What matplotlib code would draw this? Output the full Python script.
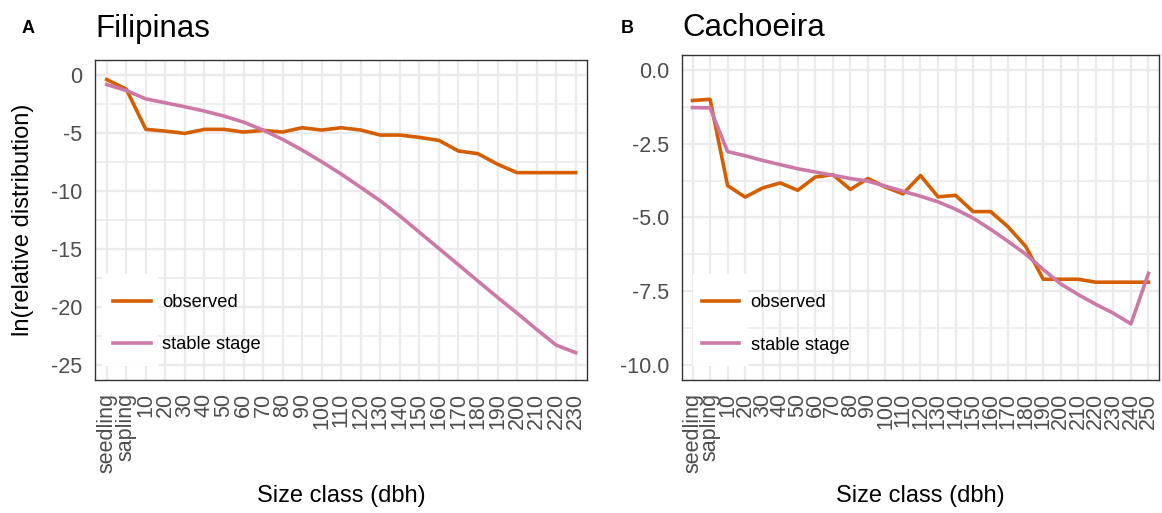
import matplotlib
matplotlib.use("Agg")
import matplotlib.pyplot as plt
from matplotlib.patches import Rectangle
from matplotlib.ticker import MultipleLocator, FormatStrFormatter

plt.rcParams["font.family"] = ["Liberation Sans", "DejaVu Sans"]
plt.rcParams["axes.unicode_minus"] = False

ORANGE = "#D55E00"
PINK = "#CC79A7"
GRID = "#EBEBEB"
TICK_GREY = "#4D4D4D"

# ---- data ----
fil_classes = ["seedling", "sapling", "10", "20", "30", "40", "50", "60", "70",
               "80", "90", "100", "110", "120", "130", "140", "150", "160",
               "170", "180", "190", "200", "210", "220", "230"]
fil_observed = [-0.43, -1.25, -4.71, -4.86, -5.06, -4.71, -4.71, -4.94, -4.80,
                -4.94, -4.57, -4.77, -4.57, -4.77, -5.20, -5.20, -5.40, -5.66,
                -6.57, -6.80, -7.71, -8.43, -8.43, -8.43, -8.43]
fil_stable = [-0.86, -1.37, -2.09, -2.43, -2.77, -3.14, -3.57, -4.09, -4.77,
              -5.57, -6.49, -7.49, -8.55, -9.70, -10.85, -12.15, -13.55, -14.95,
              -16.35, -17.75, -19.15, -20.50, -21.90, -23.25, -23.90]

cach_classes = ["seedling", "sapling", "10", "20", "30", "40", "50", "60", "70",
                "80", "90", "100", "110", "120", "130", "140", "150", "160",
                "170", "180", "190", "200", "210", "220", "230", "240", "250"]
cach_observed = [-1.04, -1.00, -3.92, -4.31, -4.00, -3.83, -4.08, -3.63, -3.55,
                 -4.05, -3.68, -3.97, -4.20, -3.58, -4.30, -4.25, -4.80, -4.80,
                 -5.32, -5.98, -7.09, -7.09, -7.09, -7.19, -7.19, -7.19, -7.19]
cach_stable = [-1.28, -1.29, -2.77, -2.91, -3.07, -3.21, -3.35, -3.46, -3.57,
               -3.68, -3.77, -3.94, -4.11, -4.28, -4.47, -4.72, -5.02, -5.40,
               -5.81, -6.24, -6.76, -7.25, -7.61, -7.94, -8.24, -8.60, -6.89]

W, H = 1162, 513
fig = plt.figure(figsize=(W / 100, H / 100), dpi=100)
ax1 = fig.add_axes([95 / W, 133 / H, 492.4 / W, 320 / H])
ax2 = fig.add_axes([682 / W, 133 / H, 477 / W, 325 / H])


def style_panel(ax, classes, obs, stab, ylim, major, minor, fmt, leg_xy, key_rect):
    x = list(range(len(classes)))
    ax.set_axisbelow(True)
    ax.plot(x, obs, color=ORANGE, lw=2.6, label="observed", zorder=3,
            solid_joinstyle="round")
    ax.plot(x, stab, color=PINK, lw=2.6, label="stable stage", zorder=3,
            solid_joinstyle="round")
    ax.set_xlim(-0.6, len(classes) - 0.4)
    ax.set_ylim(*ylim)
    ax.set_xticks(x)
    ax.set_xticklabels(classes, rotation=90)
    ax.yaxis.set_major_locator(MultipleLocator(major))
    ax.yaxis.set_minor_locator(MultipleLocator(minor))
    ax.yaxis.set_major_formatter(FormatStrFormatter(fmt))
    ax.grid(True, which="major", color=GRID, lw=1.6)
    ax.grid(True, which="minor", axis="y", color=GRID, lw=1.2)
    ax.tick_params(which="both", length=0, pad=9.4, labelsize=15.5,
                   labelcolor=TICK_GREY)
    for s in ax.spines.values():
        s.set_color("#333333")
        s.set_linewidth(1.0)
        s.set_zorder(4)
    # white legend keys (as in the ggplot legend)
    ax.add_patch(Rectangle(key_rect[:2], key_rect[2], key_rect[3],
                           transform=ax.transAxes, facecolor="white",
                           edgecolor="none", zorder=1))
    ax.legend(loc="lower left", bbox_to_anchor=leg_xy, frameon=False,
              fontsize=13.2, handlelength=2.05, handletextpad=0.62,
              labelspacing=1.38, borderpad=0, borderaxespad=0)


style_panel(ax1, fil_classes, fil_observed, fil_stable, (-26.25, 1.25),
            5, 2.5, "%d", (0.0366, 0.083), (0.014, 0.044, 0.114, 0.288))
style_panel(ax2, cach_classes, cach_observed, cach_stable, (-10.5, 0.5),
            2.5, 1.25, "%.1f", (0.0412, 0.081), (0.023, 0.043, 0.115, 0.283))

# panel titles and letters
fig.text(95 / W, (H - 37) / H, "Filipinas", fontsize=22.5, va="baseline")
fig.text(682 / W, (H - 36) / H, "Cachoeira", fontsize=22.5, va="baseline")
fig.text(22 / W, (H - 28.5) / H, "A", fontsize=13, fontweight="bold",
         va="center")
fig.text(621 / W, (H - 28.5) / H, "B", fontsize=13, fontweight="bold",
         va="center")

# axis titles
fig.text(23 / W, (H - 220) / H, "ln(relative distribution)", fontsize=17,
         rotation=90, ha="center", va="center")
fig.text((95 + 492.4 / 2) / W, (H - 496) / H, "Size class (dbh)",
         fontsize=17, ha="center", va="center")
fig.text((682 + 477 / 2) / W, (H - 496) / H, "Size class (dbh)",
         fontsize=17, ha="center", va="center")

fig.savefig("out.png", dpi=100)
